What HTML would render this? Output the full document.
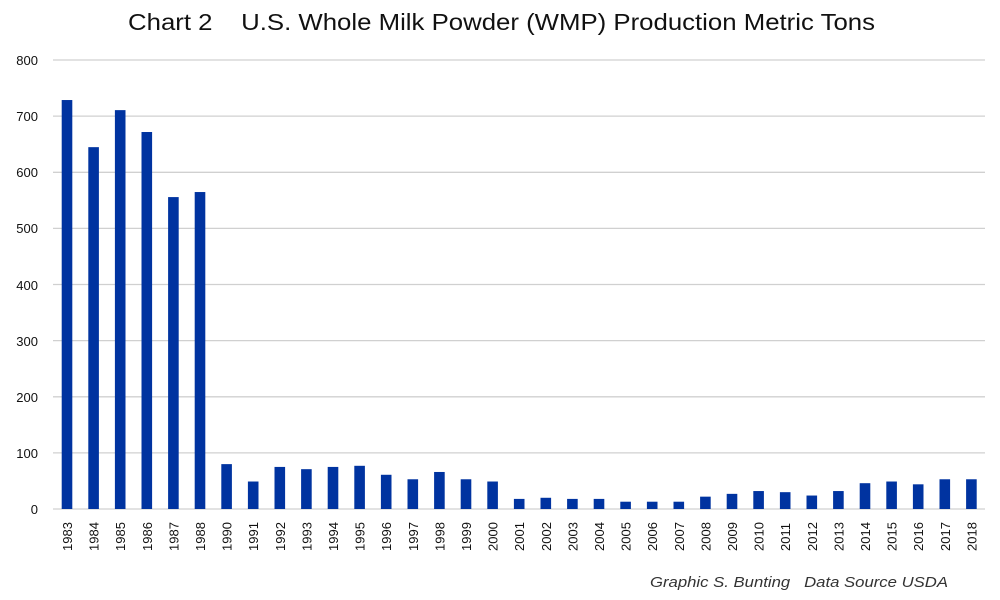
<!DOCTYPE html>
<html><head><style>body{margin:0;background:#fff}svg{display:block}</style></head><body>
<svg width="1000" height="600" xmlns="http://www.w3.org/2000/svg" font-family="Liberation Sans, sans-serif">
<rect width="1000" height="600" fill="#fff"/>
<text x="128" y="30" font-size="23" fill="#111" textLength="747" lengthAdjust="spacingAndGlyphs" xml:space="preserve">Chart 2    U.S. Whole Milk Powder (WMP) Production Metric Tons</text>
<g stroke="#d0d0d0" stroke-width="1.3">
<line x1="53" x2="985" y1="509" y2="509"/><line x1="53" x2="985" y1="452.9" y2="452.9"/><line x1="53" x2="985" y1="396.8" y2="396.8"/><line x1="53" x2="985" y1="340.6" y2="340.6"/><line x1="53" x2="985" y1="284.5" y2="284.5"/><line x1="53" x2="985" y1="228.4" y2="228.4"/><line x1="53" x2="985" y1="172.3" y2="172.3"/><line x1="53" x2="985" y1="116.1" y2="116.1"/><line x1="53" x2="985" y1="60" y2="60"/>
</g>
<g font-size="13" fill="#111" text-anchor="end">
<text x="38" y="514">0</text><text x="38" y="458">100</text><text x="38" y="402">200</text><text x="38" y="346">300</text><text x="38" y="290">400</text><text x="38" y="233">500</text><text x="38" y="177">600</text><text x="38" y="121">700</text><text x="38" y="65">800</text>
</g>
<g transform="translate(0,509) scale(1,-0.561)" fill="#0033a0">
<rect x="61.7" y="0" width="10.6" height="729"/>
<rect x="88.3" y="0" width="10.6" height="645"/>
<rect x="114.9" y="0" width="10.6" height="711"/>
<rect x="141.5" y="0" width="10.6" height="672"/>
<rect x="168.1" y="0" width="10.6" height="556"/>
<rect x="194.7" y="0" width="10.6" height="565"/>
<rect x="221.3" y="0" width="10.6" height="80"/>
<rect x="247.9" y="0" width="10.6" height="49"/>
<rect x="274.5" y="0" width="10.6" height="75"/>
<rect x="301.1" y="0" width="10.6" height="71"/>
<rect x="327.7" y="0" width="10.6" height="75"/>
<rect x="354.3" y="0" width="10.6" height="77"/>
<rect x="380.9" y="0" width="10.6" height="61"/>
<rect x="407.5" y="0" width="10.6" height="53"/>
<rect x="434.1" y="0" width="10.6" height="66"/>
<rect x="460.7" y="0" width="10.6" height="53"/>
<rect x="487.3" y="0" width="10.6" height="49"/>
<rect x="513.9" y="0" width="10.6" height="18"/>
<rect x="540.5" y="0" width="10.6" height="20"/>
<rect x="567.1" y="0" width="10.6" height="18"/>
<rect x="593.7" y="0" width="10.6" height="18"/>
<rect x="620.3" y="0" width="10.6" height="13"/>
<rect x="646.9" y="0" width="10.6" height="13"/>
<rect x="673.5" y="0" width="10.6" height="13"/>
<rect x="700.1" y="0" width="10.6" height="22"/>
<rect x="726.7" y="0" width="10.6" height="27"/>
<rect x="753.3" y="0" width="10.6" height="32"/>
<rect x="779.9" y="0" width="10.6" height="30"/>
<rect x="806.5" y="0" width="10.6" height="24"/>
<rect x="833.1" y="0" width="10.6" height="32"/>
<rect x="859.7" y="0" width="10.6" height="46"/>
<rect x="886.3" y="0" width="10.6" height="49"/>
<rect x="912.9" y="0" width="10.6" height="44"/>
<rect x="939.5" y="0" width="10.6" height="53"/>
<rect x="966.1" y="0" width="10.6" height="53"/>
</g>
<g font-size="13" fill="#111">
<text transform="translate(72,551) rotate(-90)">1983</text>
<text transform="translate(98.6,551) rotate(-90)">1984</text>
<text transform="translate(125.2,551) rotate(-90)">1985</text>
<text transform="translate(151.8,551) rotate(-90)">1986</text>
<text transform="translate(178.4,551) rotate(-90)">1987</text>
<text transform="translate(205,551) rotate(-90)">1988</text>
<text transform="translate(231.6,551) rotate(-90)">1990</text>
<text transform="translate(258.2,551) rotate(-90)">1991</text>
<text transform="translate(284.8,551) rotate(-90)">1992</text>
<text transform="translate(311.4,551) rotate(-90)">1993</text>
<text transform="translate(338,551) rotate(-90)">1994</text>
<text transform="translate(364.6,551) rotate(-90)">1995</text>
<text transform="translate(391.2,551) rotate(-90)">1996</text>
<text transform="translate(417.8,551) rotate(-90)">1997</text>
<text transform="translate(444.4,551) rotate(-90)">1998</text>
<text transform="translate(471,551) rotate(-90)">1999</text>
<text transform="translate(497.6,551) rotate(-90)">2000</text>
<text transform="translate(524.2,551) rotate(-90)">2001</text>
<text transform="translate(550.8,551) rotate(-90)">2002</text>
<text transform="translate(577.4,551) rotate(-90)">2003</text>
<text transform="translate(604,551) rotate(-90)">2004</text>
<text transform="translate(630.6,551) rotate(-90)">2005</text>
<text transform="translate(657.2,551) rotate(-90)">2006</text>
<text transform="translate(683.8,551) rotate(-90)">2007</text>
<text transform="translate(710.4,551) rotate(-90)">2008</text>
<text transform="translate(737,551) rotate(-90)">2009</text>
<text transform="translate(763.6,551) rotate(-90)">2010</text>
<text transform="translate(790.2,551) rotate(-90)">2011</text>
<text transform="translate(816.8,551) rotate(-90)">2012</text>
<text transform="translate(843.4,551) rotate(-90)">2013</text>
<text transform="translate(870,551) rotate(-90)">2014</text>
<text transform="translate(896.6,551) rotate(-90)">2015</text>
<text transform="translate(923.2,551) rotate(-90)">2016</text>
<text transform="translate(949.8,551) rotate(-90)">2017</text>
<text transform="translate(976.4,551) rotate(-90)">2018</text>
</g>
<text x="650" y="587" font-size="15" font-style="italic" fill="#333" textLength="298" lengthAdjust="spacingAndGlyphs" xml:space="preserve">Graphic S. Bunting   Data Source USDA</text>
</svg>
</body></html>
